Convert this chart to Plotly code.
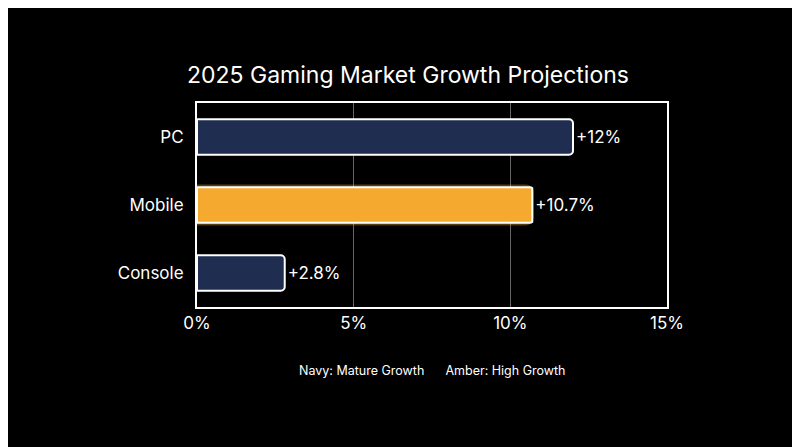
import plotly.graph_objects as go

categories = ["Console", "Mobile", "PC"]
values = [2.8, 10.7, 12]
labels = ["+2.8%", "+10.7%", "+12%"]
colors = ["#1e2d50", "#f5a92f", "#1e2d50"]

fig = go.Figure()
fig.add_trace(go.Bar(y=categories, x=[0, 10.75, 0], orientation="h", width=0.6,
                     marker=dict(color="rgba(245,169,47,0.35)", line=dict(width=0), cornerradius=8),
                     hoverinfo="skip", showlegend=False))
fig.add_trace(go.Bar(y=categories, x=values, orientation="h", width=0.52,
                     marker=dict(color=colors, line=dict(color="white", width=2), cornerradius=4),
                     text=labels, textposition="outside", textfont=dict(color="white", size=17),
                     cliponaxis=False, showlegend=False))
fig.update_layout(
    width=800, height=447, barmode="overlay",
    paper_bgcolor="black", plot_bgcolor="black",
    font=dict(family="Inter, sans-serif", color="white"),
    title=dict(text="2025 Gaming Market Growth Projections", x=0.5, y=0.85, xanchor="center", yanchor="middle",
               font=dict(size=23, color="white")),
    margin=dict(l=189, r=141, t=95, b=148),
    xaxis=dict(range=[0, 15], tickvals=[0, 5, 10, 15], ticktext=["0%", "5%", "10%", "15%"],
               showgrid=True, gridcolor="#666", gridwidth=1, zeroline=False,
               showline=True, linecolor="white", linewidth=2, mirror=True,
               tickfont=dict(size=17, color="white"), ticks="", ticklen=8, tickcolor="black"),
    yaxis=dict(showline=True, linecolor="white", linewidth=2, mirror=True,
               tickfont=dict(size=17, color="white"), ticks="outside", ticklen=8, tickcolor="black"),
    annotations=[dict(text="Navy: Mature Growth      Amber: High Growth", x=0.5, y=-0.36,
                      xref="paper", yref="paper", showarrow=False, font=dict(size=12.5, color="white"))],
)
fig.write_html("out.html")
